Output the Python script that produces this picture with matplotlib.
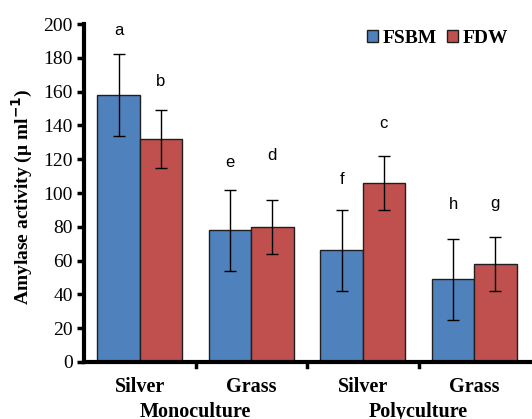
import matplotlib
matplotlib.use("Agg")
import matplotlib.pyplot as plt
import numpy as np

categories = ["Silver", "Grass", "Silver", "Grass"]
groups = ["Monoculture", "Polyculture"]
fsbm = [158, 78, 66, 49]
fdw = [132, 80, 106, 58]
fsbm_err = [24, 24, 24, 24]
fdw_err = [17, 16, 16, 16]
fsbm_letters = ["a", "e", "f", "h"]
fdw_letters = ["b", "d", "c", "g"]
fsbm_letter_y = [196, 118, 108, 93]
fdw_letter_y = [166, 122, 141, 94]
yticks = [0, 20, 40, 60, 80, 100, 120, 140, 160, 180, 200]

serif = "Liberation Serif"
sans = "Liberation Sans"

fig = plt.figure(figsize=(5.32, 4.19), dpi=100)
ax = fig.add_axes([84/532, 1-362/419, (530-84)/532, (362-24)/419])

x = np.arange(len(categories))
w = 0.38
blue = "#4F81BD"
red = "#C0504D"
ax.bar(x - w/2, fsbm, w, color=blue, edgecolor="#1f1f1f", linewidth=1.0, label="FSBM", zorder=2)
ax.bar(x + w/2, fdw, w, color=red, edgecolor="#1f1f1f", linewidth=1.0, label="FDW", zorder=2)
ax.errorbar(x - w/2, fsbm, yerr=fsbm_err, fmt="none", ecolor="black", elinewidth=1.0, capsize=4, capthick=1.0, zorder=3)
ax.errorbar(x + w/2, fdw, yerr=fdw_err, fmt="none", ecolor="black", elinewidth=1.0, capsize=4, capthick=1.0, zorder=3)

for i in range(len(categories)):
    ax.text(x[i] - w/2, fsbm_letter_y[i], fsbm_letters[i], ha="center", va="center", fontsize=12, family=sans)
    ax.text(x[i] + w/2, fdw_letter_y[i], fdw_letters[i], ha="center", va="center", fontsize=12, family=sans)

ax.set_xlim(-0.5, 3.5)
ax.set_ylim(0, 200)
ax.set_yticks(yticks)
ax.set_yticklabels([str(v) for v in yticks], family=serif, fontsize=14)
ax.set_xticks(x)
ax.set_xticklabels(categories, family=serif, fontsize=14.5, fontweight="bold")
ax.tick_params(axis="x", length=0, pad=11)
ax.tick_params(axis="y", width=2.5, length=5, direction="out", pad=3)
for b in [0.5, 1.5, 2.5]:
    ax.plot([b, b], [0, -3], color="black", lw=2.5, clip_on=False, transform=ax.transData)

ax.spines["top"].set_visible(False)
ax.spines["right"].set_visible(False)
ax.spines["left"].set_linewidth(3)
ax.spines["bottom"].set_linewidth(3)

ax.text(0.5, -0.148, groups[0], transform=ax.get_xaxis_transform(), ha="center", va="center",
        family=serif, fontsize=14.5, fontweight="bold")
ax.text(2.5, -0.148, groups[1], transform=ax.get_xaxis_transform(), ha="center", va="center",
        family=serif, fontsize=14.5, fontweight="bold")

fig.text(22/532, 1-197/419, "Amylase activity (μ ml$^{\\mathbf{-1}}$)", rotation=90, ha="center", va="center",
         family=serif, fontsize=14, fontweight="bold")

leg = ax.legend(loc="upper right", bbox_to_anchor=(0.99, 1.035), ncol=2, frameon=False,
                prop={"family": serif, "weight": "bold", "size": 14},
                handlelength=0.55, handleheight=0.55, handletextpad=0.25, columnspacing=0.5)

fig.savefig("out.png", dpi=100)
